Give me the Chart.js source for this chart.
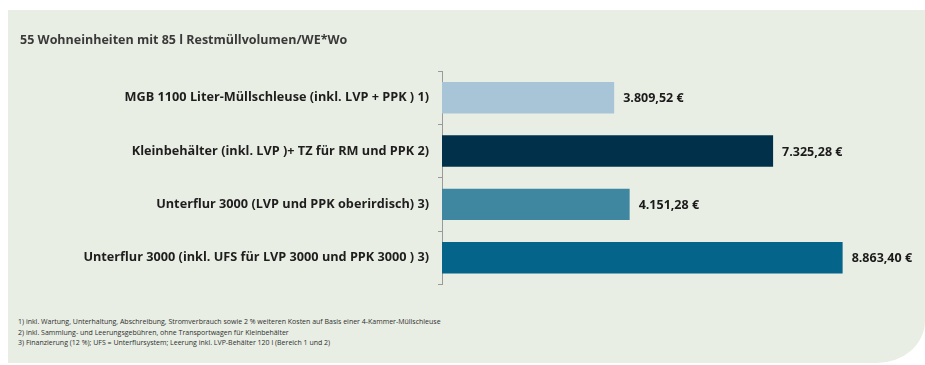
<!DOCTYPE html>
<html>
<head>
<meta charset="utf-8">
<script src="https://cdn.jsdelivr.net/npm/chart.js@4"></script>
<style>
  body { margin: 0; background: #fff; width: 925px; height: 365px; overflow: hidden; }
  #panel {
    position: absolute; left: 8px; top: 10px; width: 917px; height: 353px;
    background: #e9eee4; border-bottom-right-radius: 48px 42px;
  }
  #wrap { position: absolute; left: 0; top: 0; width: 925px; height: 301px; }
  .title {
    position: absolute; left: 20px; top: 31px; font: bold 12.5px "Open Sans", sans-serif;
    color: #3a3a3a;
  }
  .notes {
    position: absolute; left: 18px; top: 317px; font: 7px "Open Sans", sans-serif;
    color: #2e2e2e; line-height: 10.5px;
  }
</style>
</head>
<body>
<div id="panel"></div>
<div id="wrap"><canvas id="chart"></canvas></div>
<div class="title">55 Wohneinheiten mit 85 l Restmüllvolumen/WE*Wo</div>
<div class="notes">
  1) inkl. Wartung, Unterhaltung, Abschreibung, Stromverbrauch sowie 2 % weiteren Kosten auf Basis einer 4-Kammer-Müllschleuse<br>
  2) inkl. Sammlung- und Leerungsgebühren, ohne Transportwagen für Kleinbehälter<br>
  3) Finanzierung (12 %); UFS = Unterflursystem; Leerung inkl. LVP-Behälter 120 l (Bereich 1 und 2)
</div>
<script>
// categories and values (Euro)
const labels = [
  "MGB 1100 Liter-Müllschleuse (inkl. LVP + PPK ) 1)",
  "Kleinbehälter (inkl. LVP )+ TZ für RM und PPK 2)",
  "Unterflur 3000 (LVP und PPK oberirdisch) 3)",
  "Unterflur 3000 (inkl. UFS für LVP 3000 und PPK 3000 ) 3)"
];
const costs = [3809.52, 7325.28, 4151.28, 8863.40];
const barColors = ["#a8c5d7", "#00304a", "#3f87a1", "#05648a"];

const fontFamily = '"Open Sans", sans-serif';

function euro(v) {
  return v.toLocaleString("de-DE", { minimumFractionDigits: 2, maximumFractionDigits: 2 }) + " €";
}

// draws the value next to each bar
const valueLabels = {
  id: "valueLabels",
  afterDatasetsDraw(chart) {
    const ctx = chart.ctx;
    const meta = chart.getDatasetMeta(0);
    ctx.save();
    ctx.font = "bold 12.5px " + fontFamily;
    ctx.fillStyle = "#1a1a1a";
    ctx.textBaseline = "middle";
    meta.data.forEach((bar, i) => {
      ctx.fillText(euro(costs[i]), bar.x + 9, bar.y + 1);
    });
    ctx.restore();
  }
};

new Chart(document.getElementById("chart"), {
  type: "bar",
  data: {
    labels: labels,
    datasets: [{
      data: costs,
      backgroundColor: barColors,
      barPercentage: 0.59,
      categoryPercentage: 1
    }]
  },
  options: {
    indexAxis: "y",
    responsive: true,
    maintainAspectRatio: false,
    animation: false,
    layout: { padding: { top: 71, bottom: 10, right: 31, left: 0 } },
    plugins: { legend: { display: false }, tooltip: { enabled: false } },
    scales: {
      x: { display: false, min: 0, max: 10000 },
      y: {
        afterFit: s => { s.width = 442; },
        border: { color: "#9a9a9a", width: 1 },
        grid: { drawOnChartArea: false, tickLength: 4, color: "#9a9a9a" },
        ticks: {
          padding: 9,
          color: "#1e1e1e",
          font: { family: fontFamily, size: 12.7, weight: "bold" }
        }
      }
    }
  },
  plugins: [valueLabels]
});
</script>
</body>
</html>
